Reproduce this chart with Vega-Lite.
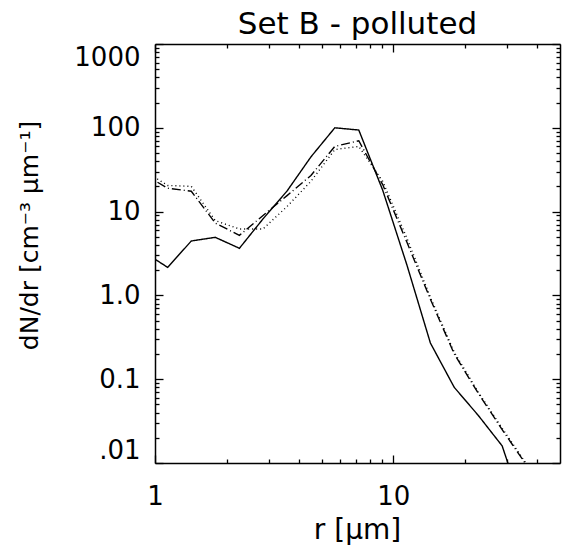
{
  "$schema": "https://vega.github.io/schema/vega-lite/v6.json",
  "width": 405,
  "height": 419,
  "autosize": {"type": "none"},
  "padding": {"left": 155, "top": 44, "right": 2, "bottom": 83},
  "background": "white",
  "title": {"text": "Set B - polluted", "font": "DejaVu Sans", "fontSize": 31, "fontWeight": "normal", "color": "black", "anchor": "middle", "offset": 3, "baseline": "bottom", "frame": "group", "dy": 40},
  "config": {
    "view": {"stroke": null},
    "axis": {"domainColor": "black", "domainWidth": 1.5, "tickColor": "black", "tickWidth": 1.3, "labelColor": "black", "titleColor": "black", "labelFont": "DejaVu Sans", "titleFont": "DejaVu Sans", "grid": false, "labelFontSize": 26, "titleFontWeight": "normal", "labelOverlap": false, "labelBound": false}
  },
  "data": {"values": [
    {"s": "solid", "r": 0.897, "v": 3.3},
    {"s": "solid", "r": 1.13, "v": 2.16},
    {"s": "solid", "r": 1.42, "v": 4.46},
    {"s": "solid", "r": 1.79, "v": 4.93},
    {"s": "solid", "r": 2.26, "v": 3.65},
    {"s": "solid", "r": 2.84, "v": 8.2},
    {"s": "solid", "r": 3.58, "v": 17.6},
    {"s": "solid", "r": 4.51, "v": 45},
    {"s": "solid", "r": 5.68, "v": 100},
    {"s": "solid", "r": 7.16, "v": 94},
    {"s": "solid", "r": 9.02, "v": 18},
    {"s": "solid", "r": 11.4, "v": 2.3},
    {"s": "solid", "r": 14.3, "v": 0.27},
    {"s": "solid", "r": 18.0, "v": 0.08},
    {"s": "solid", "r": 22.7, "v": 0.037},
    {"s": "solid", "r": 28.6, "v": 0.016},
    {"s": "solid", "r": 36.1, "v": 0.0022},
    {"s": "dotted", "r": 0.897, "v": 31},
    {"s": "dotted", "r": 1.13, "v": 20.5},
    {"s": "dotted", "r": 1.42, "v": 20},
    {"s": "dotted", "r": 1.79, "v": 7.8},
    {"s": "dotted", "r": 2.26, "v": 6.2},
    {"s": "dotted", "r": 2.84, "v": 6.2},
    {"s": "dotted", "r": 3.58, "v": 11.5},
    {"s": "dotted", "r": 4.51, "v": 23},
    {"s": "dotted", "r": 5.68, "v": 55},
    {"s": "dotted", "r": 7.16, "v": 60},
    {"s": "dotted", "r": 9.02, "v": 23},
    {"s": "dotted", "r": 11.4, "v": 4.8},
    {"s": "dotted", "r": 14.3, "v": 0.95},
    {"s": "dotted", "r": 18.0, "v": 0.21},
    {"s": "dotted", "r": 22.7, "v": 0.07},
    {"s": "dotted", "r": 28.6, "v": 0.026},
    {"s": "dotted", "r": 36.1, "v": 0.0098},
    {"s": "dotted", "r": 45.5, "v": 0.003},
    {"s": "dashdot", "r": 0.897, "v": 28},
    {"s": "dashdot", "r": 1.13, "v": 19},
    {"s": "dashdot", "r": 1.42, "v": 17.5},
    {"s": "dashdot", "r": 1.79, "v": 7.3},
    {"s": "dashdot", "r": 2.26, "v": 5.2},
    {"s": "dashdot", "r": 2.84, "v": 9.0},
    {"s": "dashdot", "r": 3.58, "v": 15.5},
    {"s": "dashdot", "r": 4.51, "v": 27},
    {"s": "dashdot", "r": 5.68, "v": 60},
    {"s": "dashdot", "r": 7.16, "v": 70},
    {"s": "dashdot", "r": 9.02, "v": 21},
    {"s": "dashdot", "r": 11.4, "v": 4.3},
    {"s": "dashdot", "r": 14.3, "v": 0.9},
    {"s": "dashdot", "r": 18.0, "v": 0.2},
    {"s": "dashdot", "r": 22.7, "v": 0.068},
    {"s": "dashdot", "r": 28.6, "v": 0.025},
    {"s": "dashdot", "r": 36.1, "v": 0.0095},
    {"s": "dashdot", "r": 45.5, "v": 0.003}
  ]},
  "resolve": {"axis": {"x": "independent", "y": "independent"}},
  "layer": [
    {
      "mark": {"type": "line", "clip": true, "color": "black", "strokeWidth": 1.4},
      "encoding": {
        "x": {"field": "r", "type": "quantitative", "scale": {"type": "log", "domain": [1, 50], "nice": false},
          "axis": {"orient": "bottom", "values": [1,2,3,4,5,6,7,8,9,10,20,30,40],
            "labelExpr": "datum.value==1 ? '1' : datum.value==10 ? '10' : ''",
            "tickSize": {"condition": {"test": "datum.value==1||datum.value==10", "value": -8}, "value": -4},
            "labelPadding": 28, "labelFlush": false,
            "title": "r [μm]", "titleFontSize": 28, "titleX": 202, "titleY": 75, "titleBaseline": "alphabetic", "titleAlign": "center"}},
        "y": {"field": "v", "type": "quantitative", "scale": {"type": "log", "domain": [0.01, 1000], "nice": false},
          "axis": {"orient": "left", "values": [0.01,0.02,0.03,0.04,0.05,0.06,0.07,0.08,0.09,0.1,0.2,0.3,0.4,0.5,0.6,0.7,0.8,0.9,1,2,3,4,5,6,7,8,9,10,20,30,40,50,60,70,80,90,100,200,300,400,500,600,700,800,900,1000],
            "labelExpr": "datum.value==1000 ? '1000' : datum.value==100 ? '100' : datum.value==10 ? '10' : datum.value==1 ? '1.0' : datum.value==0.1 ? '0.1' : datum.value==0.01 ? '.01' : ''",
            "tickSize": {"condition": {"test": "datum.value==0.01||datum.value==0.1||datum.value==1||datum.value==10||datum.value==100||datum.value==1000", "value": -8}, "value": -4},
            "labelPadding": 23, "labelFlush": true,
            "title": "dN/dr [cm⁻³ μm⁻¹]", "titleFontSize": 25, "titleAngle": -90, "titleX": -118, "titleY": 191, "titleBaseline": "alphabetic", "titleAlign": "center"}},
        "strokeDash": {"field": "s", "type": "nominal", "scale": {"domain": ["solid", "dotted", "dashdot"], "range": [[1, 0], [1, 3], [9, 3, 1, 3]]}, "legend": null}
      }
    },
    {
      "mark": {"type": "point", "opacity": 0, "clip": true},
      "encoding": {
        "x": {"field": "r", "type": "quantitative", "scale": {"type": "log", "domain": [1, 50], "nice": false},
          "axis": {"orient": "top", "values": [1,2,3,4,5,6,7,8,9,10,20,30,40], "labels": false, "title": null,
            "tickSize": {"condition": {"test": "datum.value==1||datum.value==10", "value": -8}, "value": -4}}},
        "y": {"field": "v", "type": "quantitative", "scale": {"type": "log", "domain": [0.01, 1000], "nice": false},
          "axis": {"orient": "right", "values": [0.01,0.02,0.03,0.04,0.05,0.06,0.07,0.08,0.09,0.1,0.2,0.3,0.4,0.5,0.6,0.7,0.8,0.9,1,2,3,4,5,6,7,8,9,10,20,30,40,50,60,70,80,90,100,200,300,400,500,600,700,800,900,1000], "labels": false, "title": null,
            "tickSize": {"condition": {"test": "datum.value==0.01||datum.value==0.1||datum.value==1||datum.value==10||datum.value==100||datum.value==1000", "value": -8}, "value": -4}}}
      }
    }
  ]
}
